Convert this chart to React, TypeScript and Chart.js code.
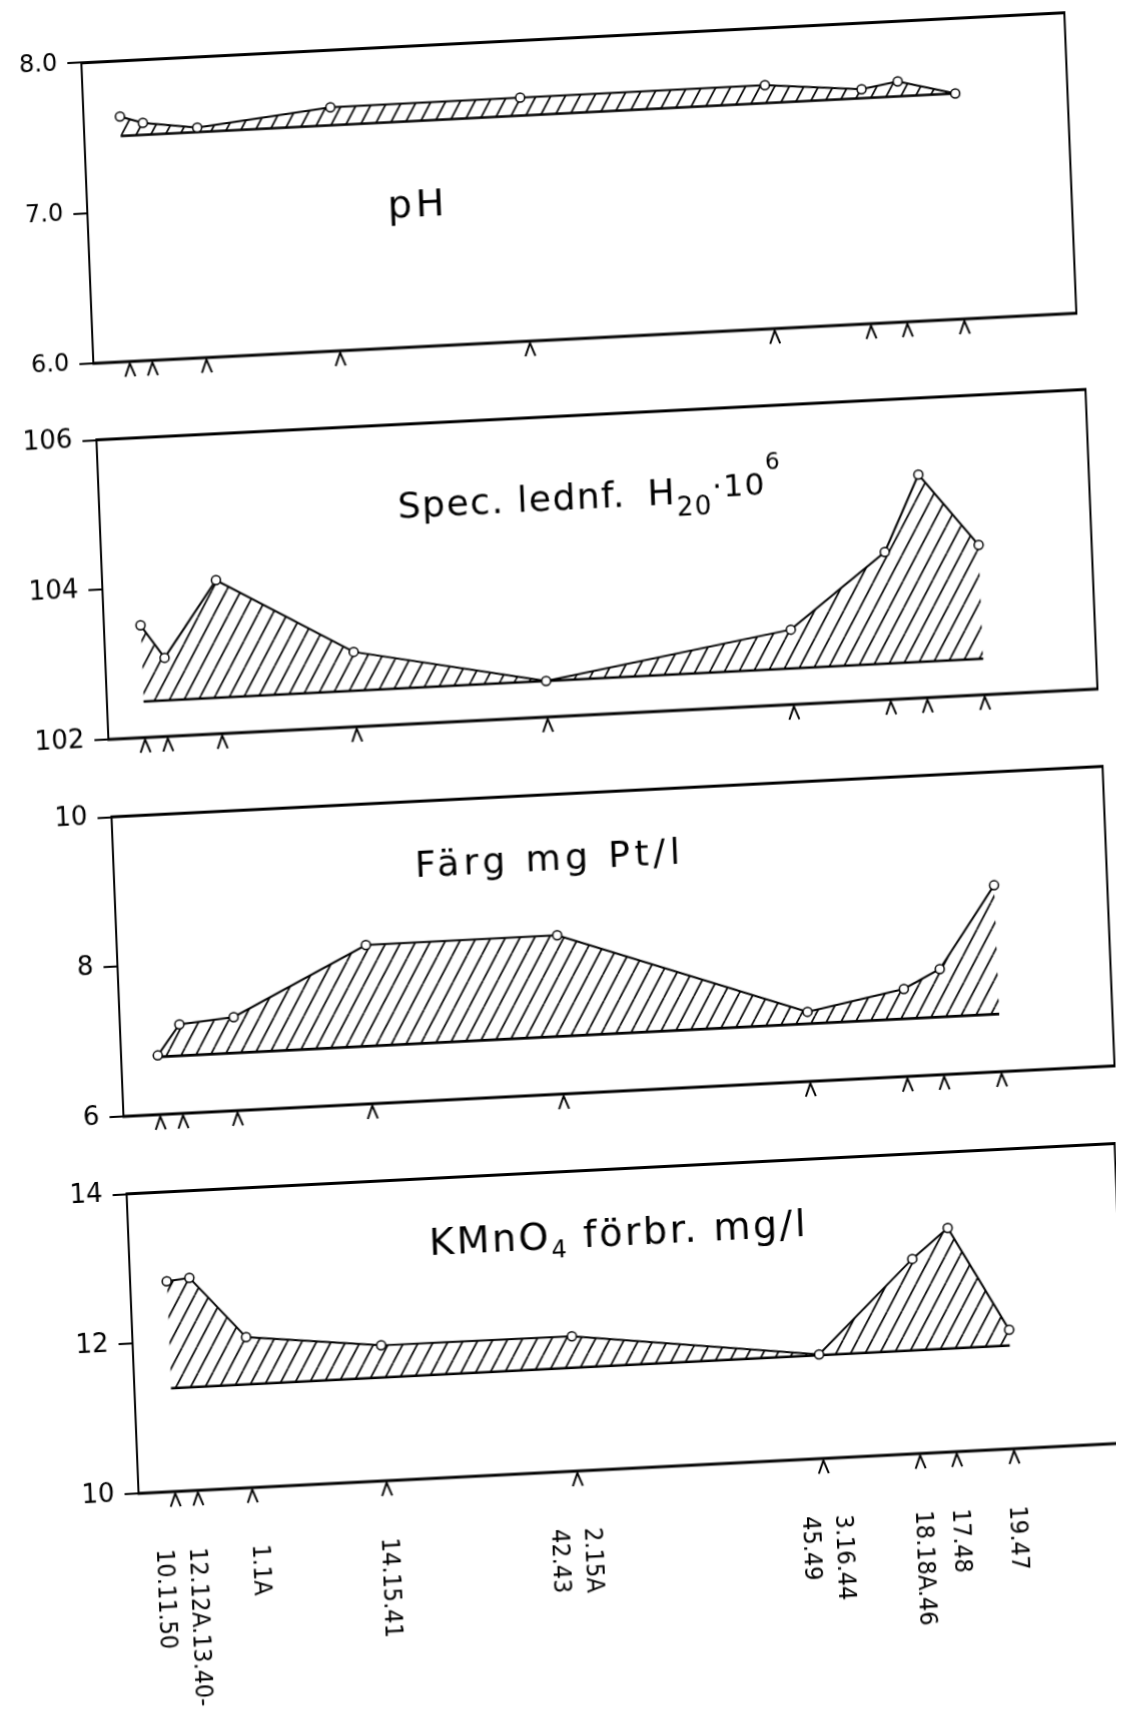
import React, { useEffect, useRef } from 'react';
import { Chart, registerables } from 'chart.js';

Chart.register(...registerables);

// ---- data ----
const stationPos = [3.7, 6.0, 11.5, 25.1, 44.4, 69.3, 79.1, 82.8, 88.6];
const stationLabels = [
  ['10.11.50'],
  ['12.12A.13.40-'],
  ['1.1A'],
  ['14.15.41'],
  ['2.15A', '42.43'],
  ['3.16.44', '45.49'],
  ['18.18A.46'],
  ['17.48'],
  ['19.47'],
];

const phValues = [7.63, 7.58, 7.53, 7.62, 7.62, 7.62, 7.56, 7.6, 7.5];
const phBase = 7.5;
const phTicks = [6, 7, 8];

const condValues = [103.5, 103.05, 104.05, 103.0, 102.48, 103.0, 103.97, 104.98, 104.0];
const condBase = 102.48;
const condTicks = [102, 104, 106];

const colourValues = [6.79, 7.19, 7.25, 8.12, 8.12, 6.93, 7.17, 7.41, 8.49];
const colourBase = 6.77;
const colourTicks = [6, 8, 10];

const kmnoValues = [12.81, 12.84, 12.01, 11.81, 11.8, 11.39, 12.6, 12.99, 11.59];
const kmnoBase = 11.38;
const kmnoTicks = [10, 12, 14];

type Seg = { text: string; size: number; dy?: number; dx?: number };

// ---- layout ----
const AXIS_W = 71;
const PAD_TOP = 24;
const PLOT_H = 301;
const CANVAS_W = 1100;
const LABEL_SHIFT = [-14, -4, 5, 0, -5, 0, 0, 0, 0];

interface PanelCfg {
  values: number[];
  base: number;
  ticks: number[];
  decimals: number;
  tickSize: number;
  top: number;
  width: number;
  padBottom: number;
  title: Seg[];
  titleX: number;
  titleY: number;
  spacing: number;
  showLabels: boolean;
}

const panels: PanelCfg[] = [
  {
    values: phValues, base: phBase, ticks: phTicks, decimals: 1, tickSize: 24,
    top: 58, width: 983, padBottom: 30,
    title: [{ text: 'pH', size: 38 }], titleX: 300, titleY: 171, spacing: 4, showLabels: false,
  },
  {
    values: condValues, base: condBase, ticks: condTicks, decimals: 0, tickSize: 26,
    top: 434, width: 989, padBottom: 30,
    title: [
      { text: 'Spec. lednf.', size: 36 },
      { text: 'H', size: 36, dx: 22 },
      { text: '20', size: 26, dy: 12 },
      { text: '·10', size: 31, dy: -5 },
      { text: '6', size: 23, dy: -30 },
    ],
    titleX: 298, titleY: 93, spacing: 1.5, showLabels: false,
  },
  {
    values: colourValues, base: colourBase, ticks: colourTicks, decimals: 0, tickSize: 26,
    top: 811, width: 991, padBottom: 30,
    title: [{ text: 'Färg mg Pt/l', size: 36 }], titleX: 301, titleY: 75, spacing: 4.5, showLabels: false,
  },
  {
    values: kmnoValues, base: kmnoBase, ticks: kmnoTicks, decimals: 0, tickSize: 26,
    top: 1188, width: 988, padBottom: 270,
    title: [
      { text: 'KMnO', size: 38 },
      { text: '4', size: 24, dy: 9 },
      { text: ' förbr. mg/l', size: 38 },
    ],
    titleX: 300, titleY: 76, spacing: 2.5, showLabels: true,
  },
];

function makeHatch(): CanvasPattern | string {
  const s = 15;
  const h = 26;
  const c = document.createElement('canvas');
  c.width = s;
  c.height = h;
  const g = c.getContext('2d');
  if (!g) return 'rgba(0,0,0,0.2)';
  g.strokeStyle = '#000';
  g.lineWidth = 1.7;
  for (const k of [-1, 0, 1]) {
    g.beginPath();
    g.moveTo(k * s, h);
    g.lineTo(k * s + s, 0);
    g.stroke();
  }
  return g.createPattern(c, 'repeat') || 'rgba(0,0,0,0.2)';
}

const decorPlugin = {
  id: 'panelDecor',
  afterDraw(chart: any, _args: any, opts: any) {
    const { ctx, chartArea } = chart;
    const xs = chart.scales.x;
    const { left, right, top, bottom } = chartArea;
    ctx.save();
    ctx.strokeStyle = '#000';
    ctx.fillStyle = '#000';
    // frame
    ctx.lineWidth = 3;
    ctx.beginPath();
    ctx.moveTo(left - 1, top);
    ctx.lineTo(right + 1, top);
    ctx.moveTo(left - 1, bottom);
    ctx.lineTo(right + 1, bottom);
    ctx.stroke();
    ctx.lineWidth = 2;
    ctx.beginPath();
    ctx.moveTo(left, top);
    ctx.lineTo(left, bottom);
    ctx.moveTo(right, top);
    ctx.lineTo(right, bottom);
    ctx.stroke();
    // sample markers
    ctx.lineWidth = 2;
    for (const p of stationPos) {
      const x = xs.getPixelForValue(p);
      ctx.beginPath();
      ctx.moveTo(x - 5, bottom + 15);
      ctx.lineTo(x, bottom + 2);
      ctx.lineTo(x + 5, bottom + 15);
      ctx.stroke();
    }
    // title
    ctx.textAlign = 'left';
    ctx.textBaseline = 'alphabetic';
    let tx = left + opts.titleX;
    const ty = top + opts.titleY;
    for (const seg of opts.title as Seg[]) {
      ctx.font = `${seg.size}px "DejaVu Sans", sans-serif`;
      (ctx as any).letterSpacing = `${opts.spacing}px`;
      tx += seg.dx || 0;
      ctx.fillText(seg.text, tx, ty + (seg.dy || 0));
      tx += ctx.measureText(seg.text).width;
    }
    (ctx as any).letterSpacing = '0px';
    // station labels
    if (opts.showLabels) {
      ctx.font = '25px "DejaVu Sans Condensed", "DejaVu Sans", sans-serif';
      ctx.textBaseline = 'middle';
      ctx.textAlign = 'left';
      const lh = 33;
      stationLabels.forEach((lines, i) => {
        const x = xs.getPixelForValue(stationPos[i]) + LABEL_SHIFT[i];
        ctx.save();
        ctx.translate(x, bottom + 57);
        ctx.rotate(Math.PI / 2);
        lines.forEach((ln, j) => {
          const off = (j - (lines.length - 1) / 2) * lh;
          ctx.fillText(ln, 0, off);
        });
        ctx.restore();
      });
    }
    ctx.restore();
  },
};

function PanelChart({ cfg }: { cfg: PanelCfg }) {
  const ref = useRef<HTMLCanvasElement | null>(null);
  const height = PAD_TOP + PLOT_H + cfg.padBottom;
  useEffect(() => {
    if (!ref.current) return;
    const hatch = makeHatch();
    const pts = stationPos.map((x, i) => ({ x, y: cfg.values[i] }));
    const basePts = [
      { x: stationPos[0], y: cfg.base },
      { x: stationPos[stationPos.length - 1], y: cfg.base },
    ];
    const chart = new Chart(ref.current, {
      type: 'line',
      data: {
        datasets: [
          {
            data: pts,
            borderColor: '#000',
            borderWidth: 2,
            backgroundColor: hatch as any,
            fill: { value: cfg.base } as any,
            pointRadius: 4.5,
            pointBackgroundColor: '#fff',
            pointBorderColor: '#000',
            pointBorderWidth: 1.5,
            tension: 0,
          },
          {
            data: basePts,
            borderColor: '#000',
            borderWidth: 2.6,
            pointRadius: 0,
            fill: false,
            tension: 0,
          },
        ],
      },
      options: {
        responsive: false,
        animation: false,
        events: [],
        layout: {
          padding: {
            top: PAD_TOP,
            bottom: cfg.padBottom,
            left: 0,
            right: CANVAS_W - AXIS_W - cfg.width,
          },
        },
        plugins: {
          legend: { display: false },
          tooltip: { enabled: false },
          title: { display: false },
          panelDecor: {
            title: cfg.title,
            titleX: cfg.titleX,
            titleY: cfg.titleY,
            spacing: cfg.spacing,
            showLabels: cfg.showLabels,
          },
        } as any,
        scales: {
          x: { type: 'linear', min: 0, max: 100, display: false },
          y: {
            type: 'linear',
            min: cfg.ticks[0],
            max: cfg.ticks[cfg.ticks.length - 1],
            afterFit: (s: any) => {
              s.width = AXIS_W;
            },
            afterBuildTicks: (s: any) => {
              s.ticks = cfg.ticks.map((v) => ({ value: v }));
            },
            ticks: {
              color: '#000',
              padding: 10,
              font: { size: cfg.tickSize, family: '"DejaVu Sans", sans-serif' },
              callback: (v: any) => Number(v).toFixed(cfg.decimals),
            },
            grid: {
              drawOnChartArea: false,
              drawTicks: true,
              tickLength: 14,
              color: '#000',
              lineWidth: 2,
            },
            border: { display: false },
          },
        },
      },
      plugins: [decorPlugin],
    } as any);
    return () => chart.destroy();
  }, [cfg]);
  return (
    <canvas
      ref={ref}
      width={CANVAS_W}
      height={height}
      style={{
        position: 'absolute',
        left: 0,
        top: cfg.top - PAD_TOP,
        width: CANVAS_W,
        height,
      }}
    />
  );
}

export default function App() {
  return (
    <div style={{ position: 'relative', width: 1116, height: 1712, overflow: 'hidden', background: '#fff' }}>
      <div
        style={{
          position: 'absolute',
          left: 0,
          top: 0,
          width: 1116,
          height: 1780,
          transform: 'matrix(1, -0.051, 0.04, 1, 0, 0)',
          transformOrigin: '0 0',
        }}
      >
        {panels.map((p, i) => (
          <PanelChart key={i} cfg={p} />
        ))}
      </div>
    </div>
  );
}
